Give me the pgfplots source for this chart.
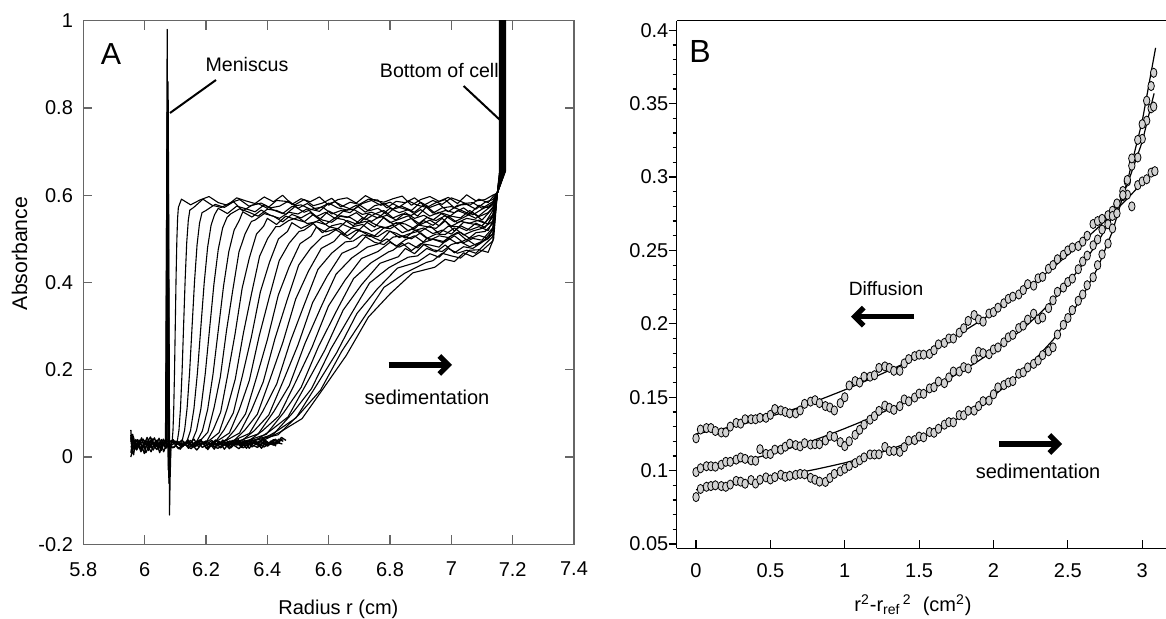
\documentclass[border=0pt]{standalone}
\usepackage{fontspec}
\setmainfont{Liberation Sans}
\usepackage{pgfplots}
\pgfplotsset{compat=1.18}
\usetikzlibrary{arrows.meta}
\pgfplotsset{tr/.style={black, line width=0.55pt, mark=none, line join=round}}
\begin{document}
\begin{tikzpicture}
\useasboundingbox (0pt,0pt) rectangle (583pt,309.5pt);
% ---------------- Panel A ----------------
\begin{axis}[at={(41.65pt,37.35pt)}, anchor=south west, scale only axis,
  width=245.35pt, height=261.8pt,
  xmin=5.8, xmax=7.4, ymin=-0.2, ymax=1,
  xtick={5.8,6,6.2,6.4,6.6,6.8,7,7.2,7.4},
  xticklabels={5.8,6,6.2,6.4,6.6,6.8,7,7.2,7.4},
  ytick={-0.2,0,0.2,0.4,0.6,0.8,1},
  yticklabels={-0.2,0,0.2,0.4,0.6,0.8,1},
  tick align=inside, major tick length=4.5pt,
  axis line style={black!60, line width=0.6pt},
  tick style={black!60, line width=0.6pt},
  tick label style={font=\fontsize{10}{12}\selectfont, inner sep=0pt},
  xticklabel style={yshift=-8.7pt},
  yticklabel style={xshift=-5pt}]
% baseline noise
\addplot[tr, line width=0.65pt] coordinates {(5.955,0.062) (5.958,0.030) (5.965,0.038) (5.975,0.022) (5.985,0.035) (5.995,0.041) (6.005,0.027) (6.015,0.033) (6.025,0.020) (6.035,0.036) (6.045,0.029) (6.055,0.040) (6.065,0.025) (6.09,0.028) (6.105,0.036) (6.12,0.022) (6.135,0.031) (6.15,0.038) (6.165,0.024) (6.18,0.030) (6.195,0.035) (6.21,0.021) (6.225,0.033) (6.24,0.027) (6.255,0.039) (6.27,0.025) (6.285,0.031) (6.30,0.036) (6.315,0.022) (6.33,0.032) (6.345,0.029) (6.36,0.038) (6.375,0.027) (6.39,0.035) (6.405,0.030) (6.42,0.040) (6.435,0.033) (6.45,0.042)};
\addplot[tr, line width=0.65pt] coordinates {(5.955,0.000) (5.960,0.015) (5.967,0.028) (5.977,0.040) (5.987,0.018) (5.997,0.030) (6.007,0.037) (6.017,0.021) (6.027,0.034) (6.037,0.026) (6.047,0.043) (6.057,0.024) (6.067,0.032) (6.092,0.021) (6.107,0.030) (6.122,0.039) (6.137,0.026) (6.152,0.019) (6.167,0.033) (6.182,0.040) (6.197,0.026) (6.212,0.031) (6.227,0.018) (6.242,0.036) (6.257,0.029) (6.272,0.023) (6.287,0.038) (6.302,0.028) (6.317,0.033) (6.332,0.020) (6.347,0.035) (6.362,0.030) (6.377,0.024) (6.392,0.039) (6.407,0.031) (6.422,0.027) (6.437,0.041) (6.452,0.036)};
\addplot[tr, line width=0.65pt] coordinates {(5.955,0.045) (5.962,0.020) (5.970,0.033) (5.980,0.026) (5.990,0.044) (6.000,0.019) (6.010,0.031) (6.020,0.039) (6.030,0.025) (6.040,0.017) (6.050,0.034) (6.060,0.028) (6.070,0.036) (6.095,0.033) (6.110,0.019) (6.125,0.029) (6.140,0.035) (6.155,0.028) (6.170,0.016) (6.185,0.029) (6.200,0.037) (6.215,0.030) (6.230,0.024) (6.245,0.034) (6.260,0.018) (6.275,0.032) (6.290,0.029) (6.305,0.040) (6.320,0.026) (6.335,0.034) (6.350,0.023) (6.365,0.031) (6.380,0.036) (6.395,0.026) (6.410,0.034) (6.425,0.029) (6.440,0.037)};
\addplot[tr, line width=0.65pt] coordinates {(5.955,0.010) (5.961,0.036) (5.968,0.024) (5.978,0.031) (5.988,0.012) (5.998,0.027) (6.008,0.045) (6.018,0.028) (6.028,0.016) (6.038,0.032) (6.048,0.023) (6.058,0.038) (6.068,0.020) (6.098,0.037) (6.113,0.027) (6.128,0.034) (6.143,0.020) (6.158,0.031) (6.173,0.037) (6.188,0.022) (6.203,0.028) (6.218,0.038) (6.233,0.031) (6.248,0.021) (6.263,0.030) (6.278,0.037) (6.293,0.026) (6.308,0.019) (6.323,0.033) (6.338,0.038) (6.353,0.027) (6.368,0.022) (6.383,0.033) (6.398,0.028) (6.413,0.037) (6.428,0.025)};
\addplot[tr, line width=0.65pt] coordinates {(5.955,0.050) (5.959,0.008) (5.966,0.030) (5.974,0.016) (5.984,0.029) (5.994,0.036) (6.004,0.010) (6.014,0.025) (6.024,0.042) (6.034,0.021) (6.044,0.030) (6.054,0.015) (6.064,0.033)};
\addplot[tr, line width=0.65pt] coordinates {(5.957,0.030) (5.963,0.047) (5.972,0.021) (5.982,0.039) (5.992,0.024) (6.002,0.034) (6.012,0.015) (6.022,0.031) (6.032,0.044) (6.042,0.022) (6.052,0.035) (6.062,0.012) (6.072,0.030) (6.093,0.040) (6.103,0.025) (6.116,0.018) (6.131,0.034) (6.146,0.029) (6.161,0.041) (6.176,0.023) (6.191,0.033) (6.206,0.017) (6.221,0.036) (6.236,0.025) (6.251,0.033) (6.266,0.040) (6.281,0.021) (6.296,0.032) (6.311,0.027) (6.326,0.039) (6.341,0.020) (6.356,0.034) (6.371,0.030) (6.386,0.042) (6.401,0.025) (6.416,0.034) (6.431,0.030) (6.446,0.045) (6.461,0.038)};
\addplot[tr, line width=0.65pt] coordinates {(5.956,0.025) (5.964,0.005) (5.971,0.040) (5.981,0.030) (5.991,0.015) (6.001,0.038) (6.011,0.024) (6.021,0.012) (6.031,0.030) (6.041,0.039) (6.051,0.020) (6.061,0.041) (6.071,0.026) (6.096,0.022) (6.111,0.035) (6.126,0.025) (6.141,0.040) (6.156,0.022) (6.171,0.030) (6.186,0.036) (6.201,0.020) (6.216,0.027) (6.231,0.039) (6.246,0.028) (6.261,0.035) (6.276,0.019) (6.291,0.034) (6.306,0.031) (6.321,0.021) (6.336,0.028) (6.351,0.040) (6.366,0.033) (6.381,0.020) (6.396,0.036) (6.411,0.029) (6.426,0.041) (6.441,0.032)};
\addplot[tr, line width=0.65pt] coordinates {(5.955,0.035) (5.961,0.052) (5.969,0.018) (5.979,0.035) (5.989,0.028) (5.999,0.008) (6.009,0.035) (6.019,0.046) (6.029,0.027) (6.039,0.035) (6.049,0.010) (6.059,0.030) (6.069,0.041) (6.089,0.035) (6.119,0.030) (6.149,0.025) (6.179,0.037) (6.209,0.028) (6.239,0.020) (6.269,0.034) (6.299,0.038) (6.329,0.026) (6.359,0.036) (6.389,0.023) (6.419,0.035) (6.449,0.030)};
% meniscus spikes
\addplot[tr, line width=0.6pt] coordinates {(6.068,0.03) (6.072,0.60) (6.0735,0.98) (6.075,0.30) (6.077,0.00) (6.080,0.03)};
\addplot[tr, line width=0.6pt] coordinates {(6.070,0.03) (6.074,0.50) (6.0765,0.86) (6.079,0.20) (6.081,-0.133) (6.083,-0.05) (6.086,0.03)};
\addplot[tr, line width=0.6pt] coordinates {(6.069,0.03) (6.073,0.79) (6.077,-0.03) (6.082,0.03)};
\addplot[tr, line width=0.6pt] coordinates {(6.071,0.02) (6.0745,0.78) (6.078,-0.02) (6.084,0.03)};
\addplot[tr, line width=0.6pt] coordinates {(6.072,0.04) (6.076,0.76) (6.080,-0.01) (6.085,0.03)};
\addplot[tr, line width=0.6pt] coordinates {(6.073,0.03) (6.0775,0.70) (6.0815,-0.03) (6.086,0.03)};
\addplot[tr, line width=0.6pt] coordinates {(6.070,0.03) (6.0755,0.65) (6.0790,-0.06) (6.083,0.02)};
% scans
\addplot[tr] coordinates {(6.086,0.028) (6.090,0.038) (6.0925,0.062) (6.095,0.114) (6.0975,0.198) (6.100,0.305) (6.1025,0.412) (6.105,0.496) (6.1075,0.548) (6.110,0.572) (6.12,0.591) (6.15,0.578) (6.18,0.589) (6.21,0.597) (6.24,0.583) (6.27,0.577) (6.30,0.594) (6.33,0.587) (6.36,0.581) (6.39,0.596) (6.42,0.585) (6.45,0.600) (6.48,0.579) (6.51,0.592) (6.54,0.585) (6.57,0.596) (6.60,0.577) (6.63,0.590) (6.66,0.594) (6.69,0.582) (6.72,0.599) (6.75,0.588) (6.78,0.584) (6.81,0.592) (6.84,0.598) (6.87,0.577) (6.90,0.590) (6.93,0.597) (6.96,0.586) (6.99,0.595) (7.02,0.581) (7.05,0.601) (7.08,0.587) (7.11,0.590) (7.135,0.600) (7.150,0.605) (7.1570,0.655) (7.1570,1.2)};
\addplot[tr] coordinates {(6.102,0.028) (6.1069,0.038) (6.1120,0.062) (6.1170,0.113) (6.1221,0.196) (6.1271,0.302) (6.1322,0.408) (6.1372,0.491) (6.1423,0.542) (6.1473,0.566) (6.16,0.572) (6.19,0.591) (6.22,0.577) (6.25,0.572) (6.28,0.583) (6.31,0.590) (6.34,0.575) (6.37,0.581) (6.40,0.570) (6.43,0.588) (6.46,0.586) (6.49,0.578) (6.52,0.590) (6.55,0.576) (6.58,0.582) (6.61,0.593) (6.64,0.573) (6.67,0.584) (6.70,0.579) (6.73,0.591) (6.76,0.589) (6.79,0.571) (6.82,0.586) (6.85,0.583) (6.88,0.594) (6.91,0.577) (6.94,0.588) (6.97,0.579) (7.00,0.594) (7.03,0.586) (7.06,0.577) (7.09,0.591) (7.12,0.583) (7.14,0.600) (7.150,0.605) (7.1579,0.655) (7.1579,1.2)};
\addplot[tr] coordinates {(6.114,0.028) (6.1223,0.037) (6.1304,0.062) (6.1385,0.112) (6.1466,0.194) (6.1547,0.299) (6.1628,0.404) (6.1709,0.486) (6.1790,0.536) (6.1871,0.560) (6.20,0.565) (6.23,0.579) (6.26,0.572) (6.29,0.585) (6.32,0.564) (6.35,0.577) (6.38,0.582) (6.41,0.571) (6.44,0.575) (6.47,0.587) (6.50,0.570) (6.53,0.581) (6.56,0.567) (6.59,0.578) (6.62,0.585) (6.65,0.574) (6.68,0.566) (6.71,0.581) (6.74,0.588) (6.77,0.577) (6.80,0.584) (6.83,0.573) (6.86,0.587) (6.89,0.577) (6.92,0.572) (6.95,0.583) (6.98,0.590) (7.01,0.571) (7.04,0.581) (7.07,0.583) (7.10,0.570) (7.135,0.585) (7.150,0.605) (7.1587,0.655) (7.1587,1.2)};
\addplot[tr] coordinates {(6.127,0.028) (6.1385,0.037) (6.1497,0.061) (6.1608,0.111) (6.1720,0.192) (6.1831,0.296) (6.1943,0.400) (6.2054,0.481) (6.2166,0.531) (6.2277,0.555) (6.24,0.570) (6.27,0.558) (6.30,0.575) (6.33,0.569) (6.36,0.562) (6.39,0.578) (6.42,0.566) (6.45,0.558) (6.48,0.574) (6.51,0.578) (6.54,0.568) (6.57,0.563) (6.60,0.582) (6.63,0.571) (6.66,0.566) (6.69,0.577) (6.72,0.561) (6.75,0.576) (6.78,0.581) (6.81,0.568) (6.84,0.574) (6.87,0.565) (6.90,0.584) (6.93,0.572) (6.96,0.580) (6.99,0.562) (7.02,0.577) (7.05,0.579) (7.08,0.568) (7.11,0.584) (7.135,0.590) (7.150,0.605) (7.1596,0.655) (7.1596,1.2)};
\addplot[tr] coordinates {(6.141,0.028) (6.1549,0.037) (6.1691,0.061) (6.1833,0.110) (6.1975,0.190) (6.2117,0.293) (6.2259,0.396) (6.2401,0.476) (6.2543,0.525) (6.2685,0.549) (6.28,0.557) (6.31,0.569) (6.34,0.561) (6.37,0.552) (6.40,0.568) (6.43,0.565) (6.46,0.556) (6.49,0.574) (6.52,0.561) (6.55,0.569) (6.58,0.573) (6.61,0.557) (6.64,0.565) (6.67,0.560) (6.70,0.578) (6.73,0.564) (6.76,0.570) (6.79,0.556) (6.82,0.574) (6.85,0.568) (6.88,0.561) (6.91,0.578) (6.94,0.559) (6.97,0.571) (7.00,0.574) (7.03,0.566) (7.06,0.557) (7.09,0.577) (7.12,0.571) (7.138,0.585) (7.150,0.605) (7.1604,0.655) (7.1604,1.2)};
\addplot[tr] coordinates {(6.154,0.028) (6.1710,0.037) (6.1883,0.060) (6.2055,0.109) (6.2228,0.189) (6.2400,0.290) (6.2573,0.392) (6.2745,0.471) (6.2918,0.520) (6.3090,0.543) (6.32,0.562) (6.35,0.550) (6.38,0.566) (6.41,0.554) (6.44,0.547) (6.47,0.561) (6.50,0.557) (6.53,0.569) (6.56,0.551) (6.59,0.561) (6.62,0.547) (6.65,0.565) (6.68,0.568) (6.71,0.556) (6.74,0.561) (6.77,0.553) (6.80,0.570) (6.83,0.560) (6.86,0.567) (6.89,0.552) (6.92,0.574) (6.95,0.557) (6.98,0.565) (7.01,0.560) (7.04,0.571) (7.07,0.555) (7.10,0.568) (7.135,0.580) (7.150,0.605) (7.1613,0.655) (7.1613,1.2)};
\addplot[tr] coordinates {(6.166,0.028) (6.1858,0.041) (6.2061,0.057) (6.2264,0.113) (6.2467,0.183) (6.2670,0.290) (6.2873,0.382) (6.3076,0.470) (6.3279,0.512) (6.3482,0.540) (6.36,0.543) (6.39,0.558) (6.42,0.552) (6.45,0.539) (6.48,0.556) (6.51,0.548) (6.54,0.560) (6.57,0.544) (6.60,0.564) (6.63,0.553) (6.66,0.549) (6.69,0.560) (6.72,0.544) (6.75,0.557) (6.78,0.565) (6.81,0.548) (6.84,0.557) (6.87,0.554) (6.90,0.567) (6.93,0.552) (6.96,0.561) (6.99,0.549) (7.02,0.565) (7.05,0.557) (7.08,0.547) (7.11,0.564) (7.135,0.578) (7.150,0.605) (7.1621,0.655) (7.1621,1.2)};
\addplot[tr] coordinates {(6.178,0.028) (6.2012,0.034) (6.2246,0.064) (6.2479,0.103) (6.2713,0.190) (6.2946,0.281) (6.3180,0.387) (6.3413,0.456) (6.3647,0.511) (6.3880,0.529) (6.40,0.547) (6.43,0.533) (6.46,0.552) (6.49,0.545) (6.52,0.539) (6.55,0.556) (6.58,0.543) (6.61,0.538) (6.64,0.553) (6.67,0.549) (6.70,0.536) (6.73,0.557) (6.76,0.548) (6.79,0.554) (6.82,0.543) (6.85,0.560) (6.88,0.547) (6.91,0.554) (6.94,0.543) (6.97,0.559) (7.00,0.552) (7.03,0.548) (7.06,0.565) (7.09,0.551) (7.12,0.560) (7.138,0.575) (7.150,0.605) (7.1630,0.655) (7.1630,1.2)};
\addplot[tr] coordinates {(6.190,0.028) (6.2164,0.041) (6.2428,0.056) (6.2692,0.111) (6.2956,0.179) (6.3220,0.284) (6.3484,0.374) (6.3748,0.460) (6.4012,0.501) (6.4276,0.528) (6.44,0.528) (6.47,0.542) (6.50,0.549) (6.53,0.535) (6.56,0.539) (6.59,0.533) (6.62,0.548) (6.65,0.544) (6.68,0.530) (6.71,0.548) (6.74,0.540) (6.77,0.553) (6.80,0.537) (6.83,0.545) (6.86,0.553) (6.89,0.533) (6.92,0.549) (6.95,0.542) (6.98,0.553) (7.01,0.539) (7.04,0.549) (7.07,0.560) (7.10,0.543) (7.135,0.570) (7.150,0.605) (7.1638,0.655) (7.1638,1.2)};
\addplot[tr] coordinates {(6.201,0.028) (6.2302,0.034) (6.2597,0.063) (6.2891,0.101) (6.3186,0.186) (6.3480,0.275) (6.3775,0.379) (6.4069,0.446) (6.4364,0.500) (6.4658,0.517) (6.48,0.537) (6.51,0.524) (6.54,0.534) (6.57,0.543) (6.60,0.528) (6.63,0.523) (6.66,0.542) (6.69,0.534) (6.72,0.540) (6.75,0.527) (6.78,0.549) (6.81,0.534) (6.84,0.538) (6.87,0.547) (6.90,0.533) (6.93,0.543) (6.96,0.530) (6.99,0.552) (7.02,0.537) (7.05,0.547) (7.08,0.543) (7.11,0.536) (7.135,0.565) (7.150,0.605) (7.1647,0.655) (7.1647,1.2)};
\addplot[tr] coordinates {(6.211,0.028) (6.2437,0.040) (6.2762,0.055) (6.3087,0.109) (6.3412,0.175) (6.3737,0.278) (6.4062,0.366) (6.4387,0.450) (6.4712,0.490) (6.5037,0.517) (6.52,0.520) (6.55,0.535) (6.58,0.514) (6.61,0.530) (6.64,0.535) (6.67,0.526) (6.70,0.521) (6.73,0.541) (6.76,0.530) (6.79,0.525) (6.82,0.537) (6.85,0.534) (6.88,0.523) (6.91,0.542) (6.94,0.531) (6.97,0.547) (7.00,0.529) (7.03,0.540) (7.06,0.536) (7.09,0.543) (7.12,0.534) (7.138,0.560) (7.150,0.605) (7.1655,0.655) (7.1655,1.2)};
\addplot[tr] coordinates {(6.222,0.028) (6.2580,0.033) (6.2936,0.062) (6.3291,0.099) (6.3647,0.182) (6.4002,0.269) (6.4358,0.371) (6.4713,0.436) (6.5069,0.489) (6.5424,0.506) (6.56,0.527) (6.59,0.516) (6.62,0.522) (6.65,0.510) (6.68,0.528) (6.71,0.533) (6.74,0.517) (6.77,0.527) (6.80,0.523) (6.83,0.535) (6.86,0.518) (6.89,0.532) (6.92,0.528) (6.95,0.524) (6.98,0.541) (7.01,0.518) (7.04,0.538) (7.07,0.534) (7.10,0.530) (7.135,0.555) (7.150,0.605) (7.1664,0.655) (7.1664,1.2)};
\addplot[tr] coordinates {(6.232,0.028) (6.2708,0.040) (6.3094,0.055) (6.3480,0.107) (6.3866,0.172) (6.4252,0.272) (6.4638,0.358) (6.5024,0.440) (6.5410,0.478) (6.5796,0.505) (6.60,0.510) (6.63,0.524) (6.66,0.507) (6.69,0.520) (6.72,0.515) (6.75,0.507) (6.78,0.525) (6.81,0.531) (6.84,0.514) (6.87,0.522) (6.90,0.517) (6.93,0.530) (6.96,0.512) (6.99,0.529) (7.02,0.528) (7.05,0.519) (7.08,0.536) (7.11,0.526) (7.135,0.550) (7.150,0.605) (7.1672,0.655) (7.1672,1.2)};
\addplot[tr] coordinates {(6.243,0.028) (6.2842,0.033) (6.3259,0.061) (6.3675,0.098) (6.4092,0.179) (6.4508,0.263) (6.4925,0.362) (6.5341,0.426) (6.5758,0.478) (6.6174,0.494) (6.64,0.512) (6.67,0.499) (6.70,0.520) (6.73,0.508) (6.76,0.505) (6.79,0.519) (6.82,0.513) (6.85,0.502) (6.88,0.519) (6.91,0.525) (6.94,0.512) (6.97,0.520) (7.00,0.511) (7.03,0.530) (7.06,0.520) (7.09,0.528) (7.12,0.519) (7.138,0.545) (7.150,0.605) (7.1681,0.655) (7.1681,1.2)};
\addplot[tr] coordinates {(6.252,0.028) (6.2968,0.040) (6.3415,0.054) (6.3862,0.106) (6.4309,0.168) (6.4756,0.266) (6.5203,0.349) (6.5650,0.430) (6.6097,0.467) (6.6544,0.493) (6.68,0.495) (6.71,0.509) (6.74,0.505) (6.77,0.495) (6.80,0.518) (6.83,0.503) (6.86,0.511) (6.89,0.517) (6.92,0.501) (6.95,0.511) (6.98,0.510) (7.01,0.525) (7.04,0.509) (7.07,0.518) (7.10,0.524) (7.135,0.540) (7.150,0.605) (7.1689,0.655) (7.1689,1.2)};
\addplot[tr] coordinates {(6.261,0.028) (6.3090,0.033) (6.3568,0.060) (6.4045,0.096) (6.4523,0.175) (6.5000,0.257) (6.5478,0.354) (6.5955,0.415) (6.6433,0.467) (6.6910,0.482) (6.72,0.505) (6.75,0.492) (6.78,0.487) (6.81,0.504) (6.84,0.507) (6.87,0.500) (6.90,0.514) (6.93,0.497) (6.96,0.507) (6.99,0.503) (7.02,0.515) (7.05,0.497) (7.08,0.514) (7.11,0.517) (7.135,0.535) (7.150,0.605) (7.1698,0.655) (7.1698,1.2)};
\addplot[tr] coordinates {(6.269,0.028) (6.3194,0.040) (6.3702,0.053) (6.4210,0.104) (6.4718,0.164) (6.5226,0.260) (6.5734,0.341) (6.6242,0.419) (6.6750,0.456) (6.7258,0.481) (6.76,0.488) (6.79,0.500) (6.82,0.483) (6.85,0.498) (6.88,0.507) (6.91,0.492) (6.94,0.499) (6.97,0.492) (7.00,0.507) (7.03,0.515) (7.06,0.501) (7.09,0.508) (7.12,0.501) (7.138,0.530) (7.150,0.605) (7.1706,0.655) (7.1706,1.2)};
\addplot[tr] coordinates {(6.276,0.028) (6.3300,0.032) (6.3839,0.060) (6.4377,0.094) (6.4916,0.171) (6.5454,0.251) (6.5993,0.346) (6.6531,0.405) (6.7070,0.455) (6.7608,0.471) (6.80,0.492) (6.83,0.481) (6.86,0.491) (6.89,0.479) (6.92,0.501) (6.95,0.498) (6.98,0.493) (7.01,0.507) (7.04,0.491) (7.07,0.501) (7.10,0.497) (7.135,0.525) (7.150,0.605) (7.1715,0.655) (7.1715,1.2)};
\addplot[tr] coordinates {(6.283,0.028) (6.3398,0.039) (6.3967,0.052) (6.4536,0.102) (6.5105,0.160) (6.5674,0.254) (6.6243,0.333) (6.6812,0.409) (6.7381,0.445) (6.7950,0.470) (6.81,0.474) (6.84,0.490) (6.87,0.473) (6.90,0.489) (6.93,0.486) (6.96,0.481) (6.99,0.502) (7.02,0.489) (7.05,0.499) (7.08,0.485) (7.11,0.499) (7.135,0.520) (7.150,0.605) (7.1723,0.655) (7.1723,1.2)};
\addplot[tr] coordinates {(6.288,0.028) (6.3477,0.032) (6.4077,0.059) (6.4676,0.092) (6.5276,0.168) (6.5875,0.245) (6.6475,0.337) (6.7074,0.395) (6.7674,0.444) (6.8273,0.459) (6.85,0.478) (6.88,0.466) (6.91,0.487) (6.94,0.475) (6.97,0.471) (7.00,0.487) (7.03,0.493) (7.06,0.482) (7.09,0.491) (7.12,0.500) (7.138,0.515) (7.150,0.605) (7.1732,0.655) (7.1732,1.2)};
\addplot[tr] coordinates {(6.292,0.028) (6.3554,0.039) (6.4184,0.051) (6.4814,0.100) (6.5444,0.157) (6.6074,0.248) (6.6704,0.324) (6.7334,0.399) (6.7964,0.434) (6.8594,0.458) (6.89,0.461) (6.92,0.478) (6.95,0.470) (6.98,0.486) (7.01,0.468) (7.04,0.482) (7.07,0.478) (7.10,0.492) (7.135,0.510) (7.150,0.605) (7.1740,0.655) (7.1740,1.2)};
\addplot[tr] coordinates {(6.296,0.028) (6.3619,0.032) (6.4280,0.058) (6.4940,0.090) (6.5601,0.164) (6.6261,0.239) (6.6922,0.329) (6.7582,0.385) (6.8243,0.433) (6.8903,0.447) (6.93,0.466) (6.96,0.458) (6.99,0.478) (7.02,0.467) (7.05,0.474) (7.08,0.467) (7.11,0.488) (7.135,0.505) (7.150,0.605) (7.1749,0.655) (7.1749,1.2)};
\addplot[tr] coordinates {(6.298,0.028) (6.3660,0.039) (6.4351,0.051) (6.5042,0.098) (6.5733,0.153) (6.6424,0.242) (6.7115,0.316) (6.7806,0.389) (6.8497,0.422) (6.9188,0.446) (6.94,0.450) (6.97,0.467) (7.00,0.461) (7.03,0.456) (7.06,0.474) (7.09,0.475) (7.12,0.469) (7.138,0.500) (7.150,0.605) (7.1757,0.655) (7.1757,1.2)};
\addplot[tr] coordinates {(6.297,0.028) (6.3690,0.032) (6.4412,0.057) (6.5133,0.088) (6.5855,0.160) (6.6576,0.233) (6.7298,0.321) (6.8019,0.375) (6.8741,0.422) (6.9462,0.435) (6.98,0.453) (7.01,0.448) (7.04,0.468) (7.07,0.459) (7.10,0.473) (7.135,0.495) (7.150,0.605) (7.1766,0.655) (7.1766,1.2)};
\end{axis}
% ---------------- Panel B ----------------
\begin{axis}[at={(338.35pt,35.35pt)}, anchor=south west, scale only axis,
  width=244.65pt, height=263.8pt,
  xmin=-0.13, xmax=3.16, ymin=0.0471, ymax=0.4065,
  axis x line*=bottom, axis y line*=left,
  axis line style={black, line width=0.7pt},
  xtick={0,0.5,1,1.5,2,2.5,3},
  xticklabels={0,0.5,1,1.5,2,2.5,3},
  ytick={0.05,0.1,0.15,0.2,0.25,0.3,0.35,0.4},
  yticklabels={0.05,0.1,0.15,0.2,0.25,0.3,0.35,0.4},
  minor y tick num=4,
  xtick align=inside, ytick align=outside,
  major tick length=4pt, minor tick length=2pt,
  tick style={black, line width=0.6pt},
  tick label style={font=\fontsize{10}{12}\selectfont, inner sep=0pt},
  xticklabel style={yshift=-7.35pt},
  clip=false]
\draw[black, line width=0.7pt] (rel axis cs:0,1) -- (rel axis cs:1,1);
\pgfplotsset{dp/.style={only marks, mark=*, mark size=2.3pt, mark options={xscale=0.7, fill=gray!35, draw=black, line width=0.4pt}}}
\addplot[dp] coordinates {(0.00,0.122) (0.03,0.128) (0.07,0.129) (0.10,0.129) (0.13,0.127) (0.17,0.126) (0.20,0.126) (0.23,0.130) (0.27,0.1325) (0.30,0.132) (0.33,0.135) (0.37,0.135) (0.40,0.135) (0.43,0.136) (0.47,0.136) (0.50,0.138) (0.53,0.142) (0.57,0.141) (0.60,0.140) (0.63,0.139) (0.67,0.139) (0.70,0.141) (0.73,0.1455) (0.77,0.147) (0.80,0.148) (0.83,0.146) (0.87,0.144) (0.90,0.143) (0.93,0.141) (0.97,0.146) (1.00,0.150) (1.03,0.158) (1.07,0.161) (1.10,0.160) (1.13,0.164) (1.17,0.164) (1.20,0.165) (1.23,0.170) (1.27,0.171) (1.30,0.170) (1.33,0.168) (1.37,0.168) (1.40,0.173) (1.43,0.176) (1.47,0.178) (1.50,0.179) (1.53,0.179) (1.57,0.1795) (1.60,0.182) (1.63,0.186) (1.67,0.187) (1.70,0.190) (1.73,0.190) (1.77,0.194) (1.80,0.197) (1.83,0.202) (1.87,0.206) (1.90,0.203) (1.93,0.2015) (1.97,0.207) (2.00,0.208) (2.03,0.211) (2.07,0.214) (2.10,0.217) (2.13,0.2185) (2.17,0.220) (2.20,0.223) (2.23,0.227) (2.27,0.226) (2.30,0.231) (2.33,0.232) (2.37,0.2375) (2.40,0.240) (2.43,0.244) (2.47,0.247) (2.50,0.250) (2.53,0.252) (2.57,0.253) (2.60,0.256) (2.63,0.260) (2.67,0.268) (2.70,0.270) (2.73,0.2715) (2.77,0.274) (2.80,0.277) (2.83,0.2815) (2.87,0.287) (2.90,0.288) (2.93,0.280) (2.97,0.2945) (3.00,0.297) (3.03,0.2985) (3.06,0.303) (3.085,0.304)};
\addplot[dp] coordinates {(0.00,0.099) (0.03,0.1016) (0.07,0.103) (0.10,0.103) (0.13,0.1027) (0.17,0.104) (0.20,0.106) (0.23,0.106) (0.27,0.1075) (0.30,0.109) (0.33,0.108) (0.37,0.107) (0.40,0.1067) (0.43,0.1146) (0.47,0.1114) (0.50,0.1113) (0.53,0.1143) (0.57,0.1143) (0.60,0.1163) (0.63,0.1184) (0.67,0.1174) (0.70,0.1165) (0.73,0.1187) (0.77,0.1178) (0.80,0.118) (0.83,0.118) (0.87,0.1205) (0.90,0.1237) (0.93,0.123) (0.97,0.1194) (1.00,0.1167) (1.03,0.120) (1.07,0.1244) (1.10,0.1278) (1.13,0.1313) (1.17,0.1347) (1.20,0.1372) (1.23,0.1407) (1.27,0.1443) (1.30,0.1428) (1.33,0.1414) (1.37,0.1439) (1.40,0.1485) (1.43,0.1472) (1.47,0.1498) (1.50,0.1525) (1.53,0.1523) (1.57,0.156) (1.60,0.1568) (1.63,0.1607) (1.67,0.1596) (1.70,0.1635) (1.73,0.1675) (1.77,0.1675) (1.80,0.1705) (1.83,0.1696) (1.87,0.1757) (1.90,0.181) (1.93,0.180) (1.97,0.1793) (2.00,0.1825) (2.03,0.1839) (2.07,0.1874) (2.10,0.1908) (2.13,0.1925) (2.17,0.1971) (2.20,0.1988) (2.23,0.2029) (2.27,0.2069) (2.30,0.203) (2.33,0.2043) (2.37,0.2107) (2.40,0.216) (2.43,0.2218) (2.47,0.2247) (2.50,0.2285) (2.53,0.2308) (2.57,0.2372) (2.60,0.2425) (2.63,0.2465) (2.67,0.2535) (2.70,0.2575) (2.73,0.2642) (2.77,0.2678) (2.80,0.2735) (2.83,0.282) (2.87,0.2905) (2.90,0.297) (2.93,0.3077) (2.97,0.3133) (3.00,0.326) (3.03,0.3384) (3.06,0.3468) (3.077,0.348)};
\addplot[dp] coordinates {(0.00,0.082) (0.03,0.0875) (0.07,0.089) (0.10,0.0895) (0.13,0.090) (0.17,0.0895) (0.20,0.089) (0.23,0.0905) (0.27,0.093) (0.30,0.0925) (0.33,0.0911) (0.37,0.0936) (0.40,0.0912) (0.43,0.0938) (0.47,0.0954) (0.50,0.094) (0.53,0.0956) (0.57,0.0972) (0.60,0.0958) (0.63,0.0965) (0.67,0.0971) (0.70,0.0978) (0.73,0.0975) (0.77,0.0951) (0.80,0.0938) (0.83,0.0925) (0.87,0.0923) (0.90,0.095) (0.93,0.0978) (0.97,0.0995) (1.00,0.1013) (1.03,0.1032) (1.07,0.1051) (1.10,0.107) (1.13,0.109) (1.17,0.111) (1.20,0.111) (1.23,0.1111) (1.27,0.1162) (1.30,0.1133) (1.33,0.1135) (1.37,0.1128) (1.40,0.116) (1.43,0.1204) (1.47,0.1208) (1.50,0.1232) (1.53,0.1227) (1.57,0.1263) (1.60,0.1258) (1.63,0.1285) (1.67,0.1313) (1.70,0.133) (1.73,0.1329) (1.77,0.1378) (1.80,0.1377) (1.83,0.1408) (1.87,0.1409) (1.90,0.144) (1.93,0.1473) (1.97,0.1477) (2.00,0.152) (2.03,0.1567) (2.07,0.1583) (2.10,0.160) (2.13,0.161) (2.17,0.166) (2.20,0.167) (2.23,0.1703) (2.27,0.1727) (2.30,0.175) (2.33,0.1787) (2.37,0.1813) (2.40,0.184) (2.43,0.1927) (2.47,0.1993) (2.50,0.204) (2.53,0.2093) (2.57,0.2157) (2.60,0.220) (2.63,0.2263) (2.67,0.2317) (2.70,0.240) (2.73,0.2473) (2.77,0.2547) (2.80,0.265) (2.83,0.2753) (2.87,0.2877) (2.90,0.298) (2.93,0.3127) (2.97,0.3253) (3.00,0.336) (3.03,0.352) (3.06,0.362) (3.077,0.371)};
\addplot[black, line width=0.6pt] coordinates {(0,0.125) (0.1,0.127) (0.2,0.129) (0.3,0.1312) (0.4,0.134) (0.5,0.137) (0.6,0.14) (0.7,0.1433) (0.8,0.147) (0.9,0.151) (1.0,0.155) (1.1,0.1593) (1.2,0.1637) (1.3,0.1683) (1.4,0.173) (1.5,0.178) (1.6,0.1833) (1.7,0.189) (1.8,0.195) (1.9,0.2013) (2.0,0.208) (2.1,0.215) (2.2,0.2222) (2.3,0.23) (2.4,0.2383) (2.5,0.247) (2.6,0.256) (2.7,0.2653) (2.8,0.275) (2.9,0.2853) (3.0,0.296) (3.085,0.305)};
\addplot[black, line width=0.6pt] coordinates {(0,0.100) (0.1,0.102) (0.2,0.104) (0.3,0.1062) (0.4,0.1087) (0.5,0.1113) (0.6,0.1143) (0.7,0.1175) (0.8,0.121) (0.9,0.1247) (1.0,0.1287) (1.1,0.1328) (1.2,0.1372) (1.3,0.1418) (1.4,0.1465) (1.5,0.1515) (1.6,0.1568) (1.7,0.1625) (1.8,0.1685) (1.9,0.1748) (2.0,0.1815) (2.1,0.1888) (2.2,0.1968) (2.3,0.206) (2.4,0.216) (2.5,0.2275) (2.6,0.2405) (2.7,0.2555) (2.8,0.2725) (2.9,0.295) (3.0,0.324) (3.08,0.357)};
\addplot[black, line width=0.6pt] coordinates {(0,0.087) (0.1,0.0885) (0.2,0.09) (0.3,0.0915) (0.4,0.0932) (0.5,0.095) (0.6,0.0968) (0.7,0.0988) (0.8,0.1008) (0.9,0.103) (1.0,0.1053) (1.1,0.108) (1.2,0.111) (1.3,0.1143) (1.4,0.118) (1.5,0.1222) (1.6,0.1268) (1.7,0.132) (1.8,0.1377) (1.9,0.144) (2.0,0.151) (2.1,0.159) (2.2,0.168) (2.3,0.178) (2.4,0.189) (2.5,0.203) (2.6,0.219) (2.7,0.238) (2.8,0.263) (2.9,0.297) (3.0,0.338) (3.09,0.388)};
\end{axis}
% ---------------- annotations ----------------
\node[font=\fontsize{15.2}{17}\selectfont, inner sep=0pt] at (55.5pt,282.5pt) {A};
\node[font=\fontsize{16}{18}\selectfont, inner sep=0pt] at (350pt,283.65pt) {B};
\node[font=\fontsize{9.8}{12}\selectfont, inner sep=0pt, anchor=base] at (123.5pt,273.65pt) {Meniscus};
\node[font=\fontsize{9.8}{12}\selectfont, inner sep=0pt, anchor=base] at (219.65pt,270.85pt) {Bottom of cell};
\draw[black, line width=1pt] (85pt,253pt) -- (108pt,269.5pt);
\draw[black, line width=1pt] (231.8pt,266.5pt) -- (250pt,249.5pt);
\node[font=\fontsize{10}{12}\selectfont, inner sep=0pt, anchor=base] at (213.5pt,107pt) {sedimentation};
\draw[line width=2.6pt, -{Straight Barb[length=4.5pt,width=9pt]}] (194.3pt,127pt) -- (226pt,127pt);
\node[font=\fontsize{9.6}{12}\selectfont, inner sep=0pt, anchor=base] at (443pt,161.5pt) {Diffusion};
\draw[line width=2.6pt, -{Straight Barb[length=4.5pt,width=9pt]}] (457pt,151.15pt) -- (425.5pt,151.15pt);
\node[font=\fontsize{10}{12}\selectfont, inner sep=0pt, anchor=base] at (519pt,70.35pt) {sedimentation};
\draw[line width=2.6pt, -{Straight Barb[length=4.5pt,width=9pt]}] (499.5pt,87.5pt) -- (531pt,87.5pt);
\node[font=\fontsize{10.6}{12}\selectfont, inner sep=0pt, rotate=90] at (9.8pt,182.75pt) {Absorbance};
\node[font=\fontsize{10}{12}\selectfont, inner sep=0pt, anchor=base] at (169.2pt,2.35pt) {Radius r (cm)};
\node[font=\fontsize{10}{12}\selectfont, inner sep=0pt, anchor=base] at (456.5pt,3.65pt) {r\textsuperscript{2}-r\textsubscript{ref}\textsuperscript{\,2}\ \ (cm\textsuperscript{2})};
\end{tikzpicture}
\end{document}
